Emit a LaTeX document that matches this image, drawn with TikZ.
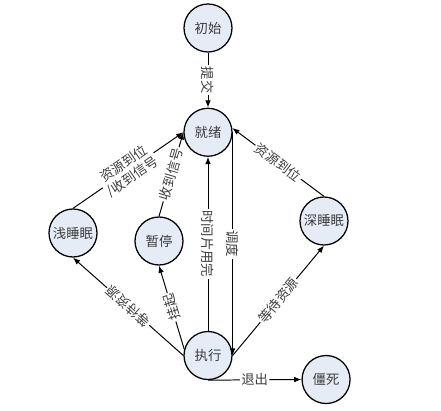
\documentclass[tikz,border=0pt]{standalone}
\usepackage{fontspec}
\newfontfamily\cjk{Noto Sans CJK SC}
\usetikzlibrary{positioning,arrows.meta}
\definecolor{statefill}{RGB}{230,236,246}
\definecolor{labeltext}{RGB}{60,60,60}
\tikzset{
  procstate/.style={circle,draw,line width=0.9pt,fill=statefill,minimum size=1.2cm,inner sep=0pt,font=\cjk\fontsize{9.5}{11}\selectfont,text=labeltext},
  procarr/.style={-{Latex[length=1.8mm,width=1.4mm]},line width=0.7pt},
  proclabel/.style={fill=white,inner sep=1pt,font=\cjk\fontsize{9.5}{11}\selectfont,text=labeltext,align=center}
}
\begin{document}
\begin{tikzpicture}[node distance=1.4cm and 1.7cm]
  \useasboundingbox (0,0) rectangle (11.025,10.275);
  \node[procstate] (init) at (5.2,9.575) {初始};
  \node[procstate,below=1.375cm of init] (ready) {就绪};
  \node[procstate,below=4.35cm of ready] (run) {执行};
  \node[procstate,right=1.72cm of run,yshift=-0.6cm] (dead) {僵死};
  \node[procstate] (light) at (1.825,4.45) {浅睡眠};
  \node[procstate] (pause) at (3.975,4.25) {暂停};
  \node[procstate] (deep) at (8.1,4.75) {深睡眠};
  \draw[procarr] (init) -- node[proclabel,sloped]{提交} (ready);
  \draw[procarr] (run) -- node[proclabel,rotate=-90]{时间片用完} (ready);
  \draw[procarr] (ready.east) -- node[proclabel,sloped]{调度} (run.east);
  \draw[procarr] (deep.north) -- node[proclabel,sloped]{资源到位} (ready.10);
  \draw[procarr] (run.east) -- node[proclabel,sloped]{等待资源} (deep.south);
  \draw[procarr] (light.north) -- node[proclabel,sloped]{资源到位\\/收到信号} (ready.west);
  \draw[procarr] (pause.north) -- node[proclabel,sloped]{收到信号} (ready.west);
  \draw[procarr] (run.west) -- node[proclabel,sloped,allow upside down]{等待资源} (light.south);
  \draw[procarr] (run.165) -- node[proclabel,sloped,allow upside down]{挂起} (pause.south);
  \draw[procarr] (run.south) -- node[proclabel]{退出} (dead.west);
\end{tikzpicture}
\end{document}
